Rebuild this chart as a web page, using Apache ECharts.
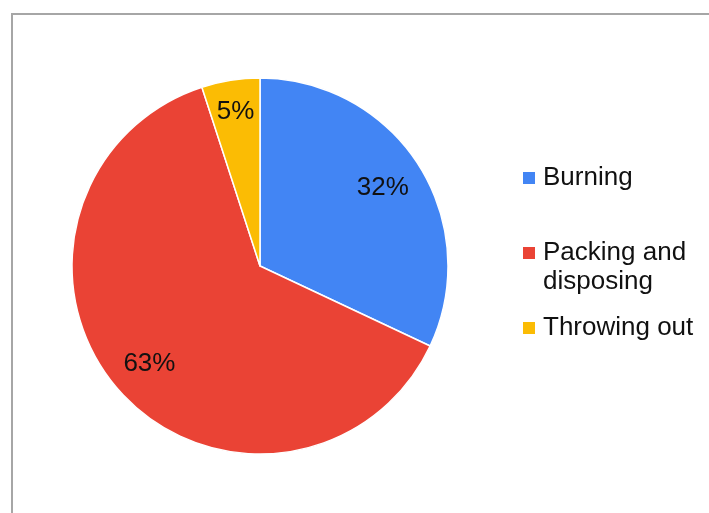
<!DOCTYPE html>
<html>
<head>
<meta charset="utf-8">
<script src="https://cdn.jsdelivr.net/npm/echarts@6/dist/echarts.min.js"></script>
<style>
html,body{margin:0;padding:0;background:#fff;}
#chart{width:709px;height:513px;}
</style>
</head>
<body>
<div id="chart"></div>
<script>
const categories = ['Burning', 'Packing and disposing', 'Throwing out'];
const values = [32, 63, 5];
const colors = ['#4285F4', '#EA4335', '#FBBC04'];
const legendLabels = ['Burning', '\nPacking and\ndisposing', 'Throwing out'];

const CX = 260, CY = 266, R = 188;
const LABEL_SCALE = [1.5, 1.52, 1.61];
const FONT = "'Liberation Sans', Arial, sans-serif";

const chart = echarts.init(document.getElementById('chart'), null, {renderer: 'canvas'});
const option = {
  backgroundColor: '#ffffff',
  animation: false,
  graphic: [{
    type: 'rect',
    shape: {x: 12, y: 14, width: 800, height: 600},
    style: {fill: 'none', stroke: '#a6a6a6', lineWidth: 2},
    silent: true,
    z: 0
  }],
  legend: {
    orient: 'vertical',
    left: 521,
    top: 163.5,
    padding: 0,
    itemGap: 17,
    itemWidth: 14,
    itemHeight: 14,
    icon: 'rect',
    selectedMode: false,
    data: categories.slice(),
    formatter: function (name) { return legendLabels[categories.indexOf(name)]; },
    textStyle: {fontFamily: FONT, fontSize: 26, lineHeight: 29, color: '#111111', padding: [0, 0, 0, 2]}
  },
  series: [{
    type: 'pie',
    center: [CX, CY],
    radius: [0, R],
    startAngle: 90,
    clockwise: true,
    silent: true,
    data: categories.map((c, i) => ({name: c, value: values[i], itemStyle: {color: colors[i]}})),
    itemStyle: {borderColor: '#ffffff', borderWidth: 1.5},
    label: {
      show: true,
      position: 'inside',
      formatter: '{c}%',
      fontFamily: FONT,
      fontSize: 26,
      color: '#111111'
    },
    labelLine: {show: false},
    labelLayout: function (p) {
      const lx = p.labelRect.x + p.labelRect.width / 2;
      const ly = p.labelRect.y + p.labelRect.height / 2;
      const k = LABEL_SCALE[p.dataIndex];
      return {x: CX + (lx - CX) * k, y: CY + (ly - CY) * k};
    },
    emphasis: {disabled: true}
  }]
};
chart.setOption(option);
</script>
</body>
</html>
